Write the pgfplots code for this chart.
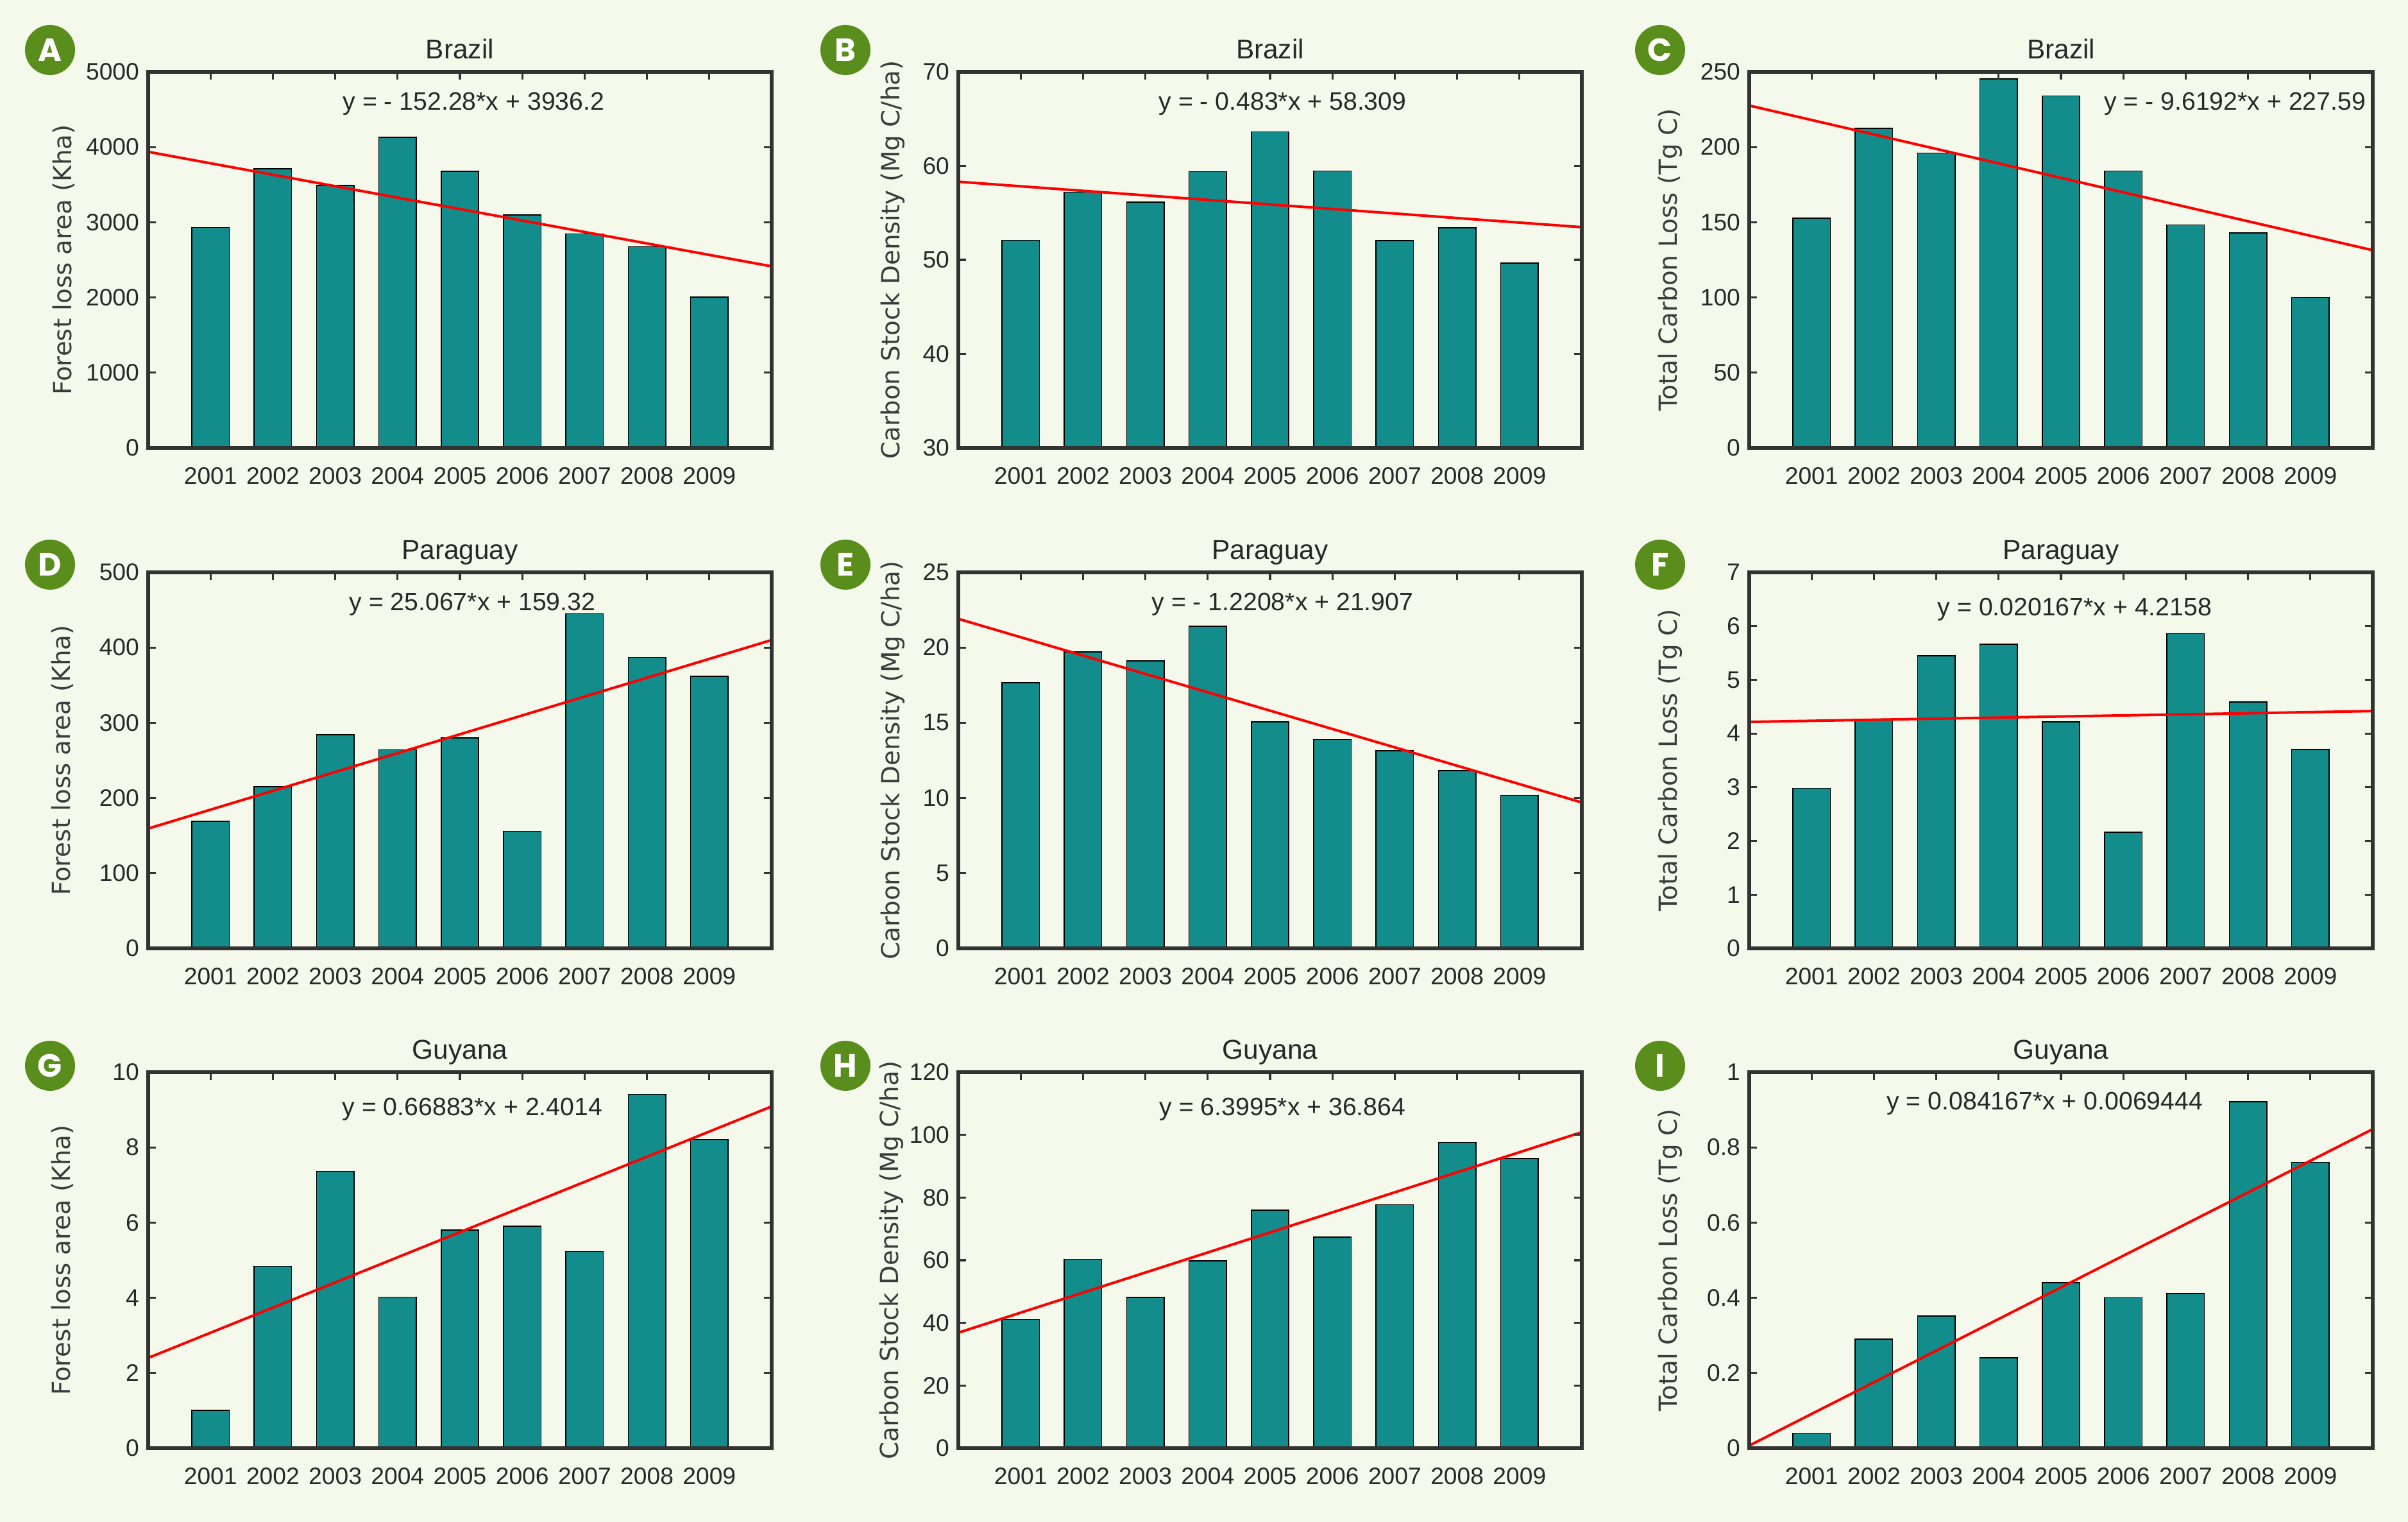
\documentclass[border=0pt]{standalone}
\usepackage{pgfplots}
\pgfplotsset{compat=1.18}
\usepackage{fontspec}
\setmainfont{Liberation Sans}
\newfontfamily\labfont{DejaVu Sans}
\newfontfamily\panfont{Poppins}
\definecolor{bg}{RGB}{245,249,235}
\definecolor{barc}{RGB}{18,141,140}
\definecolor{grn}{RGB}{90,142,28}
\definecolor{txt}{RGB}{40,40,40}
\definecolor{labc}{RGB}{60,60,60}
\definecolor{axc}{RGB}{50,50,50}
\pgfplotsset{
  panel/.style={
    width=243pt, height=146.5pt, scale only axis, anchor=south west,
    xmin=0, xmax=10, xtick={1,...,9},
    xticklabels={2001,2002,2003,2004,2005,2006,2007,2008,2009},
    tick align=inside, major tick length=3pt,
    xtick pos=upper, xticklabel pos=lower, ytick pos=both, yticklabel pos=left,
    axis on top=true,
    axis line style={axc, line width=1.3pt},
    every tick/.style={axc, line width=0.8pt},
    tick label style={font=\fontsize{9.3}{10}\selectfont, text=txt},
    xticklabel style={yshift=-4pt},
    /pgf/number format/assume math mode=true,
    /pgf/number format/1000 sep={},
    scaled y ticks=false,
    title style={font=\fontsize{10.6}{12}\selectfont, text=txt, at={(axis description cs:0.5,1)}, anchor=base, yshift=-1pt},
    ylabel style={font=\labfont\fontsize{9.7}{11}\selectfont, text=labc, anchor=center},
    bar width=0.6,
  },
  bars/.style={ybar, fill=barc, draw=black, line width=0.4pt},
  fit/.style={red, line width=1pt, sharp plot},
}
\tikzset{eq/.style={anchor=base, font=\fontsize{9.8}{11}\selectfont, text=txt}}
\begin{document}
\begin{tikzpicture}
\fill[bg] (0,0) rectangle (938.5pt,593pt);
% ---------- Row 1: Brazil ----------
\begin{axis}[panel, at={(57.75pt,418.5pt)}, title={Brazil}, ymin=0, ymax=5000, ytick={0,1000,2000,3000,4000,5000},
  ylabel={Forest loss area (Kha)}, ylabel style={at={(axis description cs:-0.135,0.5)}}]
\addplot[bars] coordinates {(1,2930) (2,3709) (3,3489) (4,4131) (5,3675) (6,3096) (7,2844) (8,2674) (9,2007)};
\addplot[fit] coordinates {(0,3936.2) (10,2413.4)};
\node[eq] at (axis description cs:0.522,0.899) {y = - 152.28*x + 3936.2};
\end{axis}
\begin{axis}[panel, at={(373.5pt,418.5pt)}, title={Brazil}, ymin=30, ymax=70, ytick={30,40,50,60,70},
  ylabel={Carbon Stock Density (Mg C/ha)}, ylabel style={at={(axis description cs:-0.105,0.5)}}]
\addplot[bars] coordinates {(1,52.09) (2,57.19) (3,56.13) (4,59.37) (5,63.61) (6,59.44) (7,52.05) (8,53.41) (9,49.67)};
\addplot[fit] coordinates {(0,58.309) (10,53.479)};
\node[eq] at (axis description cs:0.52,0.899) {y = - 0.483*x + 58.309};
\end{axis}
\begin{axis}[panel, at={(681.75pt,418.5pt)}, title={Brazil}, ymin=0, ymax=250, ytick={0,50,100,150,200,250},
  ylabel={Total Carbon Loss (Tg C)}, ylabel style={at={(axis description cs:-0.1265,0.5)}}]
\addplot[bars] coordinates {(1,152.7) (2,212.5) (3,196.0) (4,245.4) (5,233.9) (6,184.0) (7,148.2) (8,142.8) (9,100.0)};
\addplot[fit] coordinates {(0,227.59) (10,131.398)};
\node[eq] at (axis description cs:0.779,0.899) {y = - 9.6192*x + 227.59};
\end{axis}
% ---------- Row 2: Paraguay ----------
\begin{axis}[panel, at={(57.75pt,223.5pt)}, title={Paraguay}, ymin=0, ymax=500, ytick={0,100,200,300,400,500},
  ylabel={Forest loss area (Kha)}, ylabel style={at={(axis description cs:-0.138,0.5)}}]
\addplot[bars] coordinates {(1,169.0) (2,214.8) (3,284.3) (4,264.2) (5,279.6) (6,155.7) (7,445.1) (8,386.8) (9,361.5)};
\addplot[fit] coordinates {(0,159.32) (10,409.99)};
\node[eq] at (axis description cs:0.52,0.899) {y = 25.067*x + 159.32};
\end{axis}
\begin{axis}[panel, at={(373.5pt,223.5pt)}, title={Paraguay}, ymin=0, ymax=25, ytick={0,5,10,15,20,25},
  ylabel={Carbon Stock Density (Mg C/ha)}, ylabel style={at={(axis description cs:-0.105,0.5)}}]
\addplot[bars] coordinates {(1,17.65) (2,19.70) (3,19.10) (4,21.42) (5,15.05) (6,13.89) (7,13.14) (8,11.81) (9,10.18)};
\addplot[fit] coordinates {(0,21.907) (10,9.699)};
\node[eq] at (axis description cs:0.52,0.899) {y = - 1.2208*x + 21.907};
\end{axis}
\begin{axis}[panel, at={(681.75pt,223.5pt)}, title={Paraguay}, ymin=0, ymax=7, ytick={0,1,2,3,4,5,6,7},
  ylabel={Total Carbon Loss (Tg C)}, ylabel style={at={(axis description cs:-0.1265,0.5)}}]
\addplot[bars] coordinates {(1,2.98) (2,4.25) (3,5.45) (4,5.66) (5,4.22) (6,2.165) (7,5.86) (8,4.59) (9,3.70)};
\addplot[fit] coordinates {(0,4.2158) (10,4.41747)};
\node[eq] at (axis description cs:0.522,0.884) {y = 0.020167*x + 4.2158};
\end{axis}
% ---------- Row 3: Guyana ----------
\begin{axis}[panel, at={(57.75pt,28.75pt)}, title={Guyana}, ymin=0, ymax=10, ytick={0,2,4,6,8,10},
  ylabel={Forest loss area (Kha)}, ylabel style={at={(axis description cs:-0.138,0.5)}}]
\addplot[bars] coordinates {(1,1.01) (2,4.84) (3,7.36) (4,4.02) (5,5.80) (6,5.90) (7,5.23) (8,9.41) (9,8.21)};
\addplot[fit] coordinates {(0,2.4014) (10,9.0897)};
\node[eq] at (axis description cs:0.52,0.884) {y = 0.66883*x + 2.4014};
\end{axis}
\begin{axis}[panel, at={(373.5pt,28.75pt)}, title={Guyana}, ymin=0, ymax=120, ytick={0,20,40,60,80,100,120},
  ylabel={Carbon Stock Density (Mg C/ha)}, ylabel style={at={(axis description cs:-0.1075,0.5)}}]
\addplot[bars] coordinates {(1,41.07) (2,60.31) (3,48.10) (4,59.79) (5,76.03) (6,67.34) (7,77.69) (8,97.55) (9,92.48)};
\addplot[fit] coordinates {(0,36.864) (10,100.859)};
\node[eq] at (axis description cs:0.52,0.884) {y = 6.3995*x + 36.864};
\end{axis}
\begin{axis}[panel, at={(681.75pt,28.75pt)}, title={Guyana}, ymin=0, ymax=1, ytick={0,0.2,0.4,0.6,0.8,1},
  ylabel={Total Carbon Loss (Tg C)}, ylabel style={at={(axis description cs:-0.1265,0.5)}}]
\addplot[bars] coordinates {(1,0.04) (2,0.29) (3,0.351) (4,0.241) (5,0.44) (6,0.40) (7,0.411) (8,0.921) (9,0.760)};
\addplot[fit] coordinates {(0,0.0069444) (10,0.8486144)};
\node[eq] at (axis description cs:0.474,0.90) {y = 0.084167*x + 0.0069444};
\end{axis}
% ---------- panel letters ----------
\foreach \lx/\ly/\lt in {19.5pt/573.5pt/A, 329.5pt/573.5pt/B, 647pt/573.5pt/C,
                        19.5pt/373pt/D, 329.5pt/373pt/E, 647pt/373pt/F,
                        19.5pt/177.75pt/G, 329.5pt/177.75pt/H, 647pt/177.75pt/I}{
  \node[circle, fill=grn, minimum size=19.5pt, inner sep=0pt, text=white,
        font=\panfont\bfseries\fontsize{12.5}{13}\selectfont] at (\lx,\ly) {\lt};
}
\pgfresetboundingbox
\path[use as bounding box] (0,0) rectangle (938.5pt,593pt);
\end{tikzpicture}
\end{document}
